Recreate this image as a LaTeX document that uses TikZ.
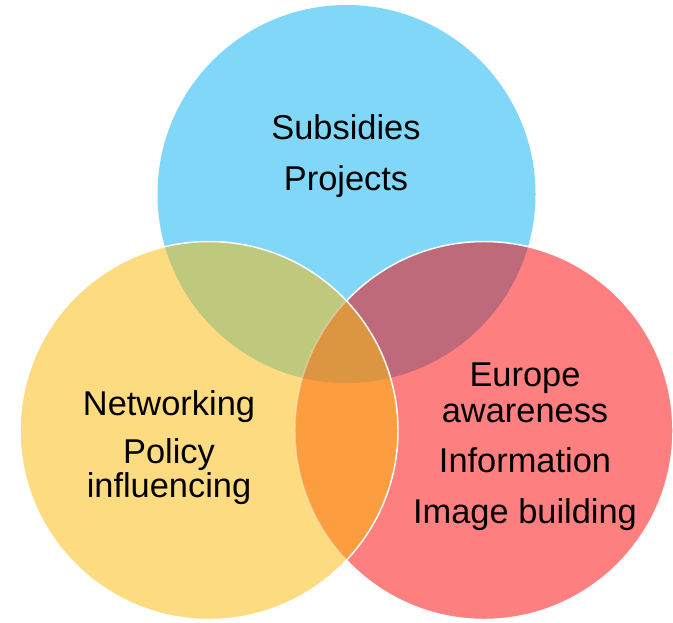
\documentclass[tikz,border=0pt]{standalone}
\usepackage{fontspec}
\setmainfont{Liberation Sans}
\definecolor{cblue}{HTML}{80D7F8}
\definecolor{cyellow}{HTML}{FDDB80}
\definecolor{cred}{HTML}{FE7F7F}
\definecolor{cgreen}{HTML}{BFC97D}
\definecolor{cmauve}{HTML}{BF6A7A}
\definecolor{corange}{HTML}{FC9D40}
\definecolor{ccenter}{HTML}{DC9540}
\tikzset{
  lbl/.style={anchor=base, inner sep=0pt, font=\fontsize{25.8}{30}\selectfont, text=black},
  rim/.style={draw=white, line width=1.1pt},
}
\begin{document}
\begin{tikzpicture}[x=0.75pt,y=-0.75pt]
\useasboundingbox (0,0) rectangle (673,622);
\def\R{141.75pt}
\coordinate (B) at (346.5,194);
\coordinate (Y) at (209,430.5);
\coordinate (Rc) at (484,430.5);
% base circles
\fill[cblue] (B) circle[radius=\R];
\fill[cred] (Rc) circle[radius=\R];
\fill[cyellow] (Y) circle[radius=\R];
% pairwise overlaps
\begin{scope}
  \clip (B) circle[radius=\R];
  \fill[cgreen] (Y) circle[radius=\R];
  \fill[cmauve] (Rc) circle[radius=\R];
\end{scope}
\begin{scope}
  \clip (Y) circle[radius=\R];
  \fill[corange] (Rc) circle[radius=\R];
  \clip (B) circle[radius=\R];
  \fill[ccenter] (Rc) circle[radius=\R];
\end{scope}
% rims
\begin{scope}[even odd rule]
  \clip (-10,-10) rectangle (683,632) (Y) circle[radius=\R];
  \draw[rim] (Rc) circle[radius=\R];
\end{scope}
\begin{scope}
  \clip (Y) circle[radius=\R];
  \draw[draw=white, draw opacity=0.35, line width=1.1pt] (Rc) circle[radius=\R];
\end{scope}
\draw[rim] (Y) circle[radius=\R];
% texts
\node[lbl] (t1) at (346,139.3) {Subsidies};
\node[lbl] (t2) at (346,190.7) {Projects};
\node[lbl] (t3) at (169,415) {Networking};
\node[lbl] (t4) at (169,463.3) {Policy};
\node[lbl] (t5) at (169,497.7) {influencing};
\node[lbl] (t6) at (525,386.7) {Europe};
\node[lbl] (t7) at (525,422.7) {awareness};
\node[lbl] (t8) at (525,472.7) {Information};
\node[lbl] (t9) at (525,523.3) {Image building};
\end{tikzpicture}
\end{document}
